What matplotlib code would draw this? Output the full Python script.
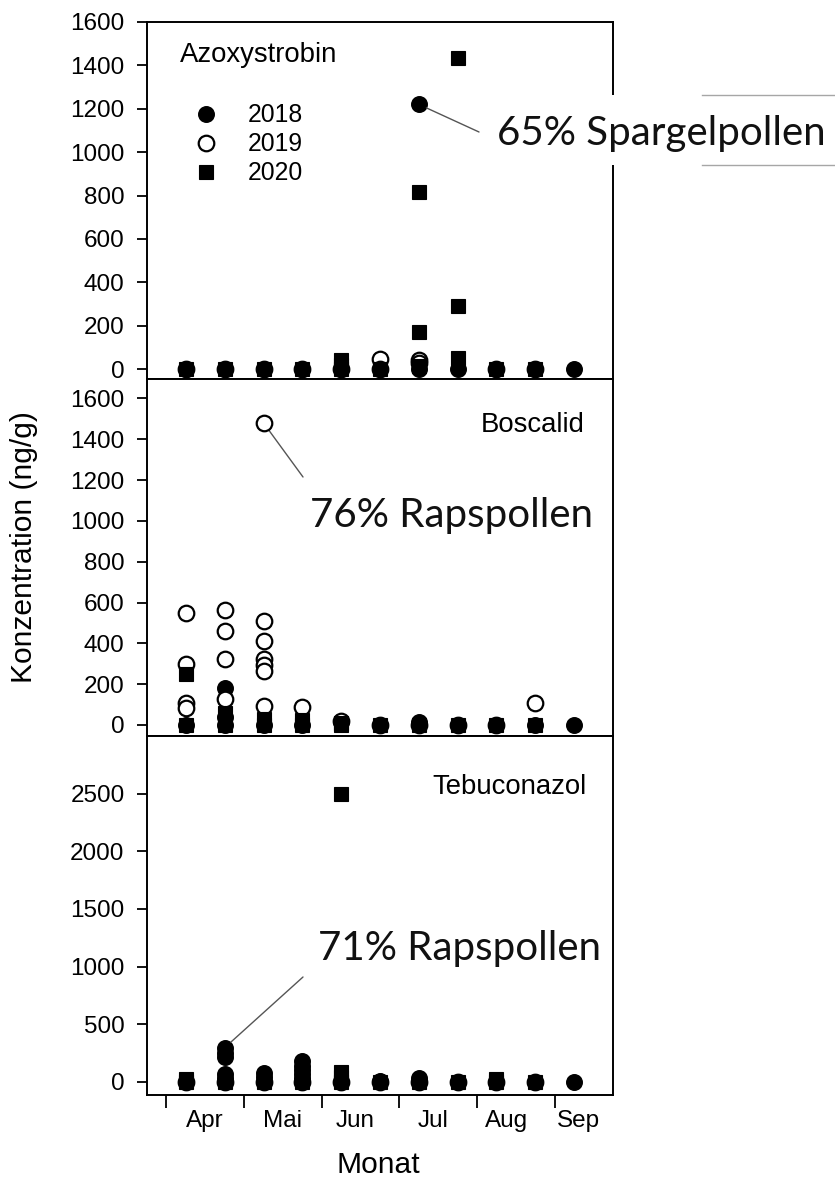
import matplotlib
matplotlib.use('Agg')
import matplotlib.pyplot as plt
from matplotlib.patches import Rectangle
from matplotlib.lines import Line2D

# ---------------- data ----------------
months = ['Apr', 'Mai', 'Jun', 'Jul', 'Aug', 'Sep']
month_label_pos = [0.49, 2.5, 4.36, 6.37, 8.27, 10.1]   # sample-period units
month_bounds = [-0.5, 1.5, 3.5, 5.5, 7.5, 9.5]
years = ['2018', '2019', '2020']

# Azoxystrobin (x = sample period index 0..10, half-months from April)
azo_2018_x = [0, 1, 2, 3, 4, 5, 6, 6, 7, 8, 9, 10]
azo_2018_y = [0, 0, 0, 0, 0, 0, 1220, 0, 0, 0, 0, 0]
azo_2019_x = [0, 1, 2, 3, 4, 5, 5, 6, 6, 8, 9]
azo_2019_y = [0, 0, 0, 0, 0, 45, 0, 40, 28, 0, 0]
azo_2020_x = [0, 1, 2, 3, 4, 4, 4, 5, 6, 6, 6, 7, 7, 7, 8, 9]
azo_2020_y = [0, 0, 0, 0, 40, 20, 0, 0, 815, 170, 12, 1435, 290, 50, 0, 0]

# Boscalid
bos_2018_x = [0, 1, 1, 1, 2, 3, 4, 5, 6, 7, 8, 9, 10]
bos_2018_y = [0, 180, 40, 0, 0, 0, 15, 0, 15, 0, 0, 0, 0]
bos_2019_x = [0, 0, 0, 0, 1, 1, 1, 1, 2, 2, 2, 2, 2, 2, 2, 3, 4, 5, 6, 7, 8, 9]
bos_2019_y = [548, 299, 110, 85, 564, 461, 322, 129, 1480, 507, 412, 322, 292, 265, 92,
              88, 20, 0, 0, 0, 0, 110]
bos_2020_x = [0, 0, 1, 1, 1, 2, 2, 3, 3, 4, 4, 5, 6, 7, 8, 9]
bos_2020_y = [250, 0, 60, 20, 0, 30, 0, 25, 0, 10, 0, 0, 0, 0, 0, 0]

# Tebuconazol
teb_2018_x = [0, 1, 1, 1, 1, 1, 1, 2, 2, 2, 3, 3, 3, 3, 3, 3, 4, 5, 6, 6, 7, 8, 9, 10]
teb_2018_y = [0, 297, 255, 215, 70, 35, 0, 79, 40, 0, 180, 140, 105, 70, 35, 0,
              0, 10, 35, 0, 0, 0, 0, 0]
teb_2019_x = [0, 1, 2, 3, 4, 5, 6, 7, 8, 9]
teb_2019_y = [0, 0, 0, 0, 0, 0, 0, 0, 0, 0]
teb_2020_x = [0, 0, 1, 2, 3, 4, 4, 4, 4, 5, 6, 7, 8, 8, 9]
teb_2020_y = [25, 0, 0, 0, 0, 2500, 83, 40, 0, 0, 0, 0, 30, 0, 0]

panels = [
    ('Azoxystrobin', (azo_2018_x, azo_2018_y), (azo_2019_x, azo_2019_y), (azo_2020_x, azo_2020_y)),
    ('Boscalid', (bos_2018_x, bos_2018_y), (bos_2019_x, bos_2019_y), (bos_2020_x, bos_2020_y)),
    ('Tebuconazol', (teb_2018_x, teb_2018_y), (teb_2019_x, teb_2019_y), (teb_2020_x, teb_2020_y)),
]

# ---------------- figure ----------------
W, H = 835, 1182
DPI = 100
plt.rcParams['font.family'] = ['Liberation Sans', 'DejaVu Sans']
fig = plt.figure(figsize=(W / DPI, H / DPI), dpi=DPI)

def fx(px):
    return px / W

def fy(py):
    return 1 - py / H

left, right = 147, 613
bounds = [(22, 379), (379, 736), (736, 1095)]
ylims = [(-46, 1600), (-54, 1695), (-113, 3000)]
yticks = [list(range(0, 1601, 200)), list(range(0, 1601, 200)), list(range(0, 2501, 500))]

TICK_FS = 17.5
TITLE_FS = 19.8
LABEL_FS = 21.6
ANNOT_FONT = ['Lato', 'DejaVu Sans']
ANNOT_FS = 29

axes = []
for i, (top, bot) in enumerate(bounds):
    ax = fig.add_axes([fx(left), fy(bot), fx(right) - fx(left), fy(top) - fy(bot)])
    name, d18, d19, d20 = panels[i]
    ax.plot(d18[0], d18[1], linestyle='none', marker='o', ms=11.2, mfc='black',
            mec='black', mew=1.0, zorder=3, label=years[0])
    ax.plot(d19[0], d19[1], linestyle='none', marker='o', ms=11.2, mfc='white',
            mec='black', mew=1.6, zorder=4, label=years[1])
    ax.plot(d20[0], d20[1], linestyle='none', marker='s', ms=10.6, mfc='black',
            mec='black', mew=0.8, zorder=5, label=years[2])
    ax.set_xlim(-1, 11)
    ax.set_ylim(*ylims[i])
    ax.set_yticks(yticks[i])
    ax.tick_params(axis='y', direction='out', length=7.2, width=1.3, pad=9,
                   labelsize=TICK_FS, right=False)
    for s in ax.spines.values():
        s.set_linewidth(1.4)
    if i < 2:
        ax.tick_params(axis='x', bottom=False, labelbottom=False)
    else:
        ax.set_xticks(month_bounds)
        ax.set_xticklabels([''] * len(month_bounds))
        ax.set_xticks(month_label_pos, minor=True)
        ax.set_xticklabels(months, minor=True)
        ax.tick_params(axis='x', which='major', direction='out', length=9.5, width=1.3)
        ax.tick_params(axis='x', which='minor', length=0, pad=11, labelsize=TICK_FS)
    axes.append(ax)

# panel titles
axes[0].text(0.0708, 0.888, 'Azoxystrobin', transform=axes[0].transAxes,
             ha='left', va='baseline', fontsize=TITLE_FS)
axes[1].text(0.940, 0.8515, 'Boscalid', transform=axes[1].transAxes,
             ha='right', va='baseline', fontsize=TITLE_FS)
axes[2].text(0.944, 0.838, 'Tebuconazol', transform=axes[2].transAxes,
             ha='right', va='baseline', fontsize=TITLE_FS)

# legend in first panel
axes[0].legend(loc='upper left', bbox_to_anchor=(0.079, 0.80), frameon=False,
               fontsize=17.8, handlelength=1.0, handletextpad=1.2,
               labelspacing=0.2, borderaxespad=0, numpoints=1)

# axis labels
fig.text(fx(24), fy(547), 'Konzentration (ng/g)', rotation=90, ha='center', va='center',
         fontsize=LABEL_FS)
fig.text(fx(378), fy(1165), 'Monat', ha='center', va='center', fontsize=LABEL_FS)

# annotations with leader lines
white_box = Rectangle((fx(484), fy(165)), fx(835) - fx(484), fy(95) - fy(165),
                      transform=fig.transFigure, facecolor='white', edgecolor='none', zorder=5)
fig.patches.append(white_box)
for yy in (95, 165):
    fig.add_artist(Line2D([fx(702), fx(835)], [fy(yy), fy(yy)], transform=fig.transFigure,
                          color='#a6a6a6', lw=1.0, zorder=6))

fig.text(fx(497), fy(145), '65% Spargelpollen', ha='left', va='baseline',
         fontsize=ANNOT_FS, family=ANNOT_FONT, color='#111111', zorder=7)
fig.text(fx(310), fy(527), '76% Rapspollen', ha='left', va='baseline',
         fontsize=ANNOT_FS, family=ANNOT_FONT, color='#111111', zorder=7)
fig.text(fx(318), fy(960), '71% Rapspollen', ha='left', va='baseline',
         fontsize=ANNOT_FS, family=ANNOT_FONT, color='#111111', zorder=7)

leader = dict(arrowstyle='-', color='#555555', lw=1.0, shrinkA=0, shrinkB=6)
axes[0].annotate('', xy=(azo_2018_x[6], azo_2018_y[6]), xycoords='data',
                 xytext=(fx(479), fy(132)), textcoords='figure fraction', arrowprops=leader)
axes[1].annotate('', xy=(bos_2019_x[8], bos_2019_y[8]), xycoords='data',
                 xytext=(fx(303), fy(477)), textcoords='figure fraction', arrowprops=leader)
axes[2].annotate('', xy=(teb_2018_x[1], teb_2018_y[1]), xycoords='data',
                 xytext=(fx(303), fy(977)), textcoords='figure fraction', arrowprops=leader)

fig.savefig('out.png', dpi=DPI)
